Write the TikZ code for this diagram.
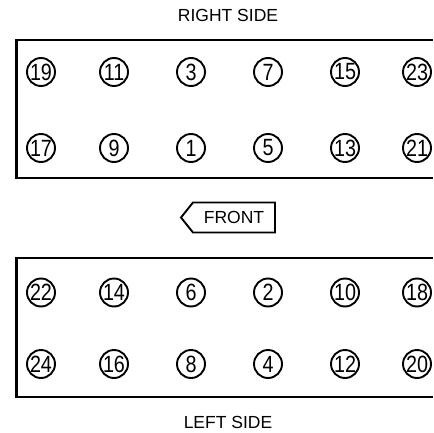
\documentclass[tikz,border=0pt]{standalone}
\usepackage{fontspec}
\setmainfont{Liberation Sans}
\begin{document}
\begin{tikzpicture}[x=1pt,y=-1pt,
  bolt/.style={circle,draw,line width=1.9pt,minimum size=28pt,inner sep=0pt,
    font=\fontsize{23.5}{23.5}\selectfont},
  side/.style={font=\fontsize{17.5}{20}\selectfont,inner sep=0pt},
  boxline/.style={line width=2.1pt}]
\useasboundingbox (0,0) rectangle (433,433);
\newcommand{\bn}[1]{\scalebox{0.84}[1]{#1}}
% labels
\node[side] (right) at (228,15) {RIGHT SIDE};
\node[side] (left) at (228,422) {LEFT SIDE};
% boxes
\draw[boxline] (433,40) -- (16.5,40) -- (16.5,178) -- (433,178);
\draw[boxline] (433,258) -- (16.5,258) -- (16.5,397) -- (433,397);
% front arrow
\draw[line width=1.9pt,line join=miter] (181,217.5) -- (193,202.5) -- (275,202.5) -- (275,232.5) -- (193,232.5) -- cycle;
\node[side] (front) at (234,217.5) {FRONT};
% top box
\foreach \n/\x in {19/41,11/114,3/191,7/268,15/345,23/417}
  \node[bolt] (b\n) at (\x,72) {\bn{\n}};
\foreach \n/\x in {17/41,9/114,1/191,5/268,13/345,21/417}
  \node[bolt] (b\n) at (\x,148) {\bn{\n}};
% bottom box
\foreach \n/\x in {22/41,14/114,6/191,2/268,10/345,18/417}
  \node[bolt] (b\n) at (\x,292.5) {\bn{\n}};
\foreach \n/\x in {24/41,16/114,8/191,4/268,12/345,20/417}
  \node[bolt] (b\n) at (\x,364) {\bn{\n}};
\end{tikzpicture}
\end{document}
